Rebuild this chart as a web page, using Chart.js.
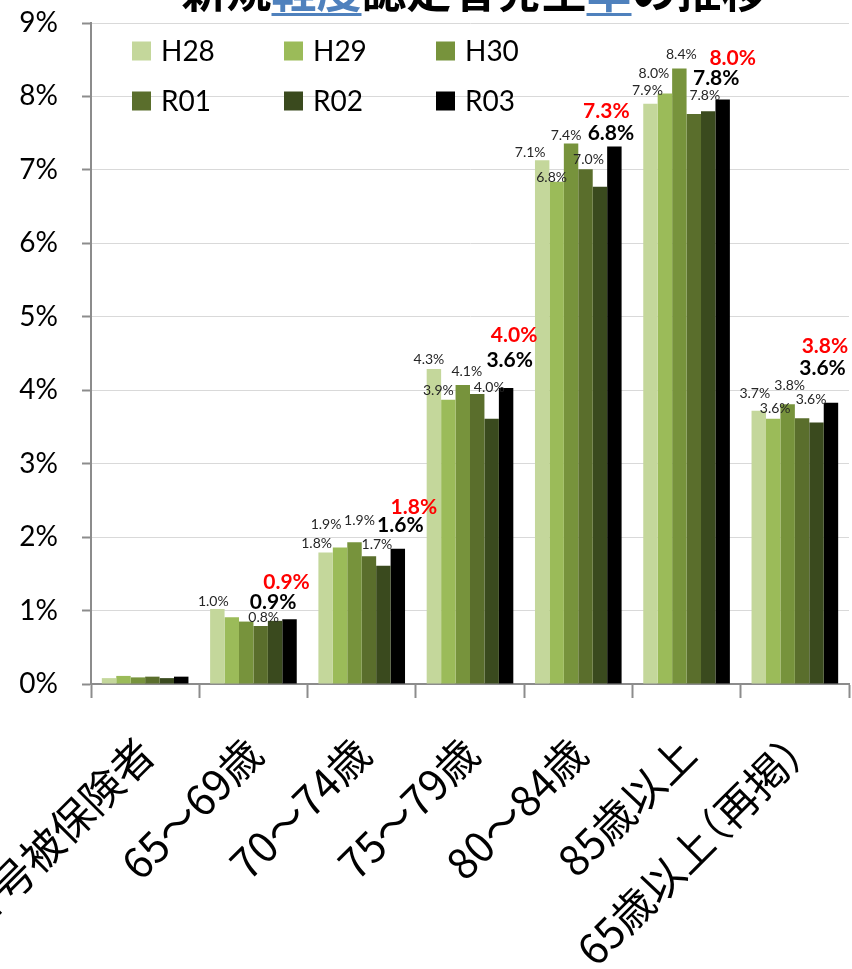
<!DOCTYPE html>
<html lang="ja">
<head>
<meta charset="utf-8">
<title>新規軽度認定者発生率の推移</title>
<script src="https://cdn.jsdelivr.net/npm/chart.js@4.4.1/dist/chart.umd.min.js"></script>
<style>
  html, body { margin: 0; padding: 0; background: #fff; }
  #wrap { width: 852px; height: 969px; overflow: hidden; }
</style>
</head>
<body>
<div id="wrap"><canvas id="chart" width="852" height="969"></canvas></div>
<script>
// 年齢区分
const categories = ['第１号被保険者', '65～69歳', '70～74歳', '75～79歳', '80～84歳', '85歳以上', '65歳以上（再掲）'];
const seriesNames = ['H28', 'H29', 'H30', 'R01', 'R02', 'R03'];

// 新規軽度認定者発生率（%）
const h28 = [0.08, 1.02, 1.79, 4.29, 7.13, 7.90, 3.72];
const h29 = [0.11, 0.91, 1.86, 3.87, 6.84, 8.04, 3.61];
const h30 = [0.09, 0.85, 1.93, 4.07, 7.36, 8.38, 3.81];
const r01 = [0.10, 0.79, 1.74, 3.95, 7.01, 7.76, 3.62];
const r02 = [0.08, 0.86, 1.61, 3.61, 6.77, 7.80, 3.56];
const r03 = [0.10, 0.88, 1.84, 4.03, 7.32, 7.96, 3.83];

const yTicks = [0, 1, 2, 3, 4, 5, 6, 7, 8, 9];

const colors = ['#c4d79b', '#9bbb59', '#77933c', '#5a6e2c', '#3a4a1e', '#000000'];

// ラベルのずらし量 [dx, dy]、null はラベルなし
const labelShift = [
  [null, [-4, 0], [-9, -1], [-5, -1], [-12, 0], [-3, -5], [-4, -9]],
  [null, null, [-14, -15], [-10, -1], [-5, 4], [-11, -12], [2, -2]],
  [null, null, [5, -14], [4, -6], [-5, 0], [2, -6], [2, -11]],
  [null, [3, 0], [8, -4], [12, 2], [3, -2], [11, -11], [9, -11]],
  [null, [-2, -7], [17, -29], [18, -47], [11, -42], [8, -21], [6, -42]],
  [null, [-3, -25], [16, -30], [8, -41], [-8, -23], [10, -29], [-6, -44]],
];

const labelStyle = [
  {font: '14px Lato', color: '#262626', lift: 8},
  {font: '14px Lato', color: '#262626', lift: 8},
  {font: '14px Lato', color: '#262626', lift: 8},
  {font: '14px Lato', color: '#262626', lift: 8},
  {font: 'bold 21px Lato', color: '#000000', lift: 12},
  {font: 'bold 21px Lato', color: '#ff0000', lift: 12},
];

const titleParts = [
  {text: '新規', blue: false},
  {text: '軽度', blue: true},
  {text: '認定者発生', blue: false},
  {text: '率', blue: true},
  {text: 'の推移', blue: false},
];

const values = [h28, h29, h30, r01, r02, r03];

const datasets = seriesNames.map((name, i) => ({
  label: name,
  data: values[i],
  backgroundColor: colors[i],
  borderWidth: 0,
  categoryPercentage: 0.8,
  barPercentage: 1.0,
}));

const titlePlugin = {
  id: 'titlePlugin',
  afterDraw(chart) {
    const ctx = chart.ctx;
    ctx.save();
    ctx.font = 'bold 45px "Noto Sans CJK JP"';
    ctx.textBaseline = 'alphabetic';
    ctx.textAlign = 'left';
    let total = 0;
    for (const p of titleParts) total += ctx.measureText(p.text).width;
    let x = 474 - total / 2;
    for (const p of titleParts) {
      const w = ctx.measureText(p.text).width;
      ctx.fillStyle = p.blue ? '#4f81bd' : '#000000';
      ctx.fillText(p.text, x, 8);
      if (p.blue) ctx.fillRect(x, 13, w, 3);
      x += w;
    }
    ctx.restore();
  }
};

const legendPlugin = {
  id: 'legendPlugin',
  afterDatasetsDraw(chart) {
    const ctx = chart.ctx;
    const cols = [132, 284, 436];
    const rows = [51, 101];
    ctx.save();
    ctx.font = '28px Lato';
    ctx.textBaseline = 'middle';
    ctx.textAlign = 'left';
    seriesNames.forEach((name, i) => {
      const x = cols[i % 3];
      const y = rows[Math.floor(i / 3)];
      ctx.fillStyle = colors[i];
      ctx.fillRect(x, y - 9.5, 19, 19);
      ctx.fillStyle = '#000000';
      ctx.fillText(name, x + 29, y + 1);
    });
    ctx.restore();
  }
};

const valueLabelPlugin = {
  id: 'valueLabelPlugin',
  afterDatasetsDraw(chart) {
    const ctx = chart.ctx;
    ctx.save();
    ctx.textAlign = 'center';
    ctx.textBaseline = 'middle';
    chart.data.datasets.forEach((ds, i) => {
      const meta = chart.getDatasetMeta(i);
      meta.data.forEach((bar, j) => {
        const shift = labelShift[i][j];
        if (!shift) return;
        const st = labelStyle[i];
        ctx.font = st.font;
        ctx.fillStyle = st.color;
        ctx.fillText(ds.data[j].toFixed(1) + '%', bar.x + shift[0], bar.y - st.lift + shift[1]);
      });
    });
    ctx.restore();
  }
};

// 全角括弧は半分の幅で詰めて描く
function glyphRuns(ctx, text) {
  const em = ctx.measureText('国').width;
  return Array.from(text).map(ch => {
    if (ch === '（') return {ch, adv: em / 2, dx: -em / 2};
    if (ch === '）') return {ch, adv: em / 2, dx: 0};
    return {ch, adv: ctx.measureText(ch).width, dx: 0};
  });
}

const xLabelPlugin = {
  id: 'xLabelPlugin',
  afterDraw(chart) {
    const ctx = chart.ctx;
    const xs = chart.scales.x;
    ctx.save();
    ctx.font = '42px "Noto Sans CJK JP"';
    ctx.fillStyle = '#000000';
    ctx.textAlign = 'left';
    ctx.textBaseline = 'middle';
    categories.forEach((c, i) => {
      const runs = glyphRuns(ctx, c);
      const total = runs.reduce((s, r) => s + r.adv, 0);
      ctx.save();
      ctx.translate(xs.getPixelForValue(i) + 1, 746);
      ctx.rotate(-Math.PI / 4);
      let x = -total;
      for (const r of runs) {
        ctx.fillText(r.ch, x + r.dx, 0);
        x += r.adv;
      }
      ctx.restore();
    });
    ctx.restore();
  }
};

new Chart(document.getElementById('chart'), {
  type: 'bar',
  data: {
    labels: categories,
    datasets: datasets,
  },
  options: {
    responsive: false,
    animation: false,
    devicePixelRatio: 1,
    layout: {
      padding: {top: 23, right: 3, bottom: 271, left: 0},
    },
    plugins: {
      legend: {display: false},
      title: {display: false},
      tooltip: {enabled: false},
    },
    scales: {
      x: {
        grid: {
          display: true,
          drawOnChartArea: false,
          offset: true,
          tickLength: 14,
          tickColor: '#8c8c8c',
          tickWidth: 2,
        },
        border: {color: '#8c8c8c', width: 2},
        ticks: {display: false},
      },
      y: {
        min: 0,
        max: 9,
        afterFit(scale) {
          scale.width = 91;
          scale.paddingTop = 0;
          scale.paddingBottom = 0;
        },
        afterBuildTicks(scale) { scale.ticks = yTicks.map(v => ({value: v})); },
        grid: {
          color: '#d9d9d9',
          tickColor: '#8c8c8c',
          tickLength: 9,
          tickWidth: 2,
        },
        border: {color: '#8c8c8c', width: 2},
        ticks: {
          padding: 24,
          color: '#000000',
          font: {family: 'Lato', size: 28},
          callback: v => v + '%',
        },
      },
    },
  },
  plugins: [titlePlugin, legendPlugin, valueLabelPlugin, xLabelPlugin],
});
</script>
</body>
</html>
